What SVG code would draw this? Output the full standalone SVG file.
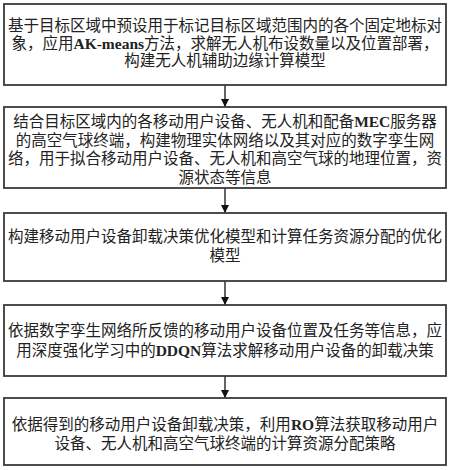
<svg xmlns="http://www.w3.org/2000/svg" width="452" height="470" viewBox="0 0 452 470">
<style>
.box{fill:#fff;stroke:#3a3a3a;stroke-width:1.8}
.t{font-family:"Liberation Serif","Noto Sans CJK SC",serif;font-size:15.5px;fill:#222;text-anchor:middle}
.b{font-weight:bold}
.c{stroke:#111;stroke-width:1.3;fill:none}
</style>
<defs>
<marker id="ah" markerWidth="8" markerHeight="8" refX="8" refY="4" orient="auto" markerUnits="userSpaceOnUse">
<path d="M0,0 L8,4 L0,8 Z" fill="#111"/>
</marker>
</defs>
<rect width="452" height="470" fill="#fff"/>
<g id="connectors">
<line class="c" x1="225" y1="85" x2="225" y2="107" marker-end="url(#ah)"/>
<line class="c" x1="225" y1="188" x2="225" y2="213" marker-end="url(#ah)"/>
<line class="c" x1="225" y1="281" x2="225" y2="305" marker-end="url(#ah)"/>
<line class="c" x1="225" y1="376" x2="225" y2="398" marker-end="url(#ah)"/>
</g>
<g id="node1">
<rect class="box" x="4" y="4" width="442" height="81"/>
<text class="t" x="225" y="30.5">基于目标区域中预设用于标记目标区域范围内的各个固定地标对</text>
<text class="t" x="225" y="48.5">象，应用<tspan class="b">AK-means</tspan>方法，求解无人机布设数量以及位置部署，</text>
<text class="t" x="225" y="66">构建无人机辅助边缘计算模型</text>
</g>
<g id="node2">
<rect class="box" x="4" y="107" width="442" height="81"/>
<text class="t" x="225" y="127">结合目标区域内的各移动用户设备、无人机和配备<tspan class="b">MEC</tspan>服务器</text>
<text class="t" x="225" y="145.5">的高空气球终端，构建物理实体网络以及其对应的数字孪生网</text>
<text class="t" x="225" y="164">络，用于拟合移动用户设备、无人机和高空气球的地理位置，资</text>
<text class="t" x="225" y="183">源状态等信息</text>
</g>
<g id="node3">
<rect class="box" x="4" y="213" width="442" height="68"/>
<text class="t" x="225" y="242">构建移动用户设备卸载决策优化模型和计算任务资源分配的优化</text>
<text class="t" x="225" y="261">模型</text>
</g>
<g id="node4">
<rect class="box" x="4" y="305" width="442" height="71"/>
<text class="t" x="225" y="335.5">依据数字孪生网络所反馈的移动用户设备位置及任务等信息，应</text>
<text class="t" x="225" y="355.5">用深度强化学习中的<tspan class="b">DDQN</tspan>算法求解移动用户设备的卸载决策</text>
</g>
<g id="node5">
<rect class="box" x="4" y="398" width="442" height="67"/>
<text class="t" x="225" y="429.5">依据得到的移动用户设备卸载决策，利用<tspan class="b">RO</tspan>算法获取移动用户</text>
<text class="t" x="225" y="448.5">设备、无人机和高空气球终端的计算资源分配策略</text>
</g>
</svg>
